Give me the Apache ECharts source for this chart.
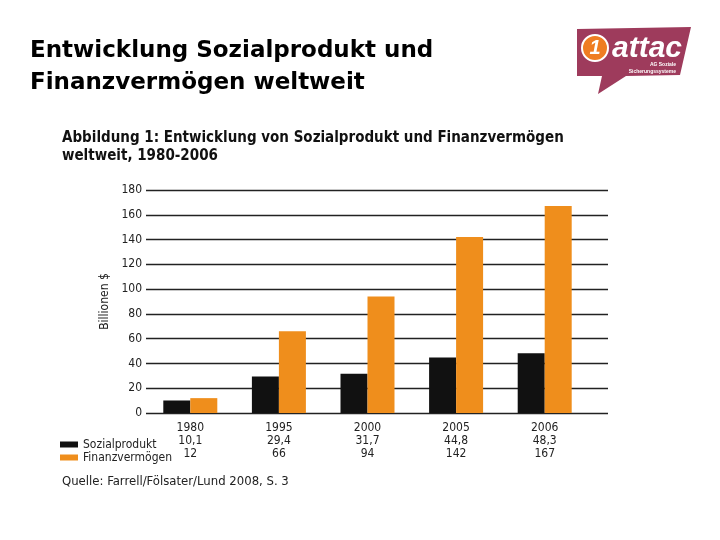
<!DOCTYPE html>
<html><head><meta charset="utf-8">
<script src="https://cdn.jsdelivr.net/npm/echarts@6/dist/echarts.min.js"></script>
<style>html,body{margin:0;padding:0;background:#fff}#c{width:720px;height:540px}</style>
</head><body><div id="c"></div>
<script>
const categories = ['1980', '1995', '2000', '2005', '2006'];
const sozialprodukt = [10.1, 29.4, 31.7, 44.8, 48.3];
const finanzvermoegen = [12, 66, 94, 142, 167];
const seriesNames = ['Sozialprodukt', 'Finanzvermögen'];
const yTicks = { min: 0, max: 180, interval: 20 };

const NARROW = '"Liberation Sans Narrow", "DejaVu Sans Condensed", sans-serif';
const fmt = v => String(v).replace('.', ',');

const chart = echarts.init(document.getElementById('c'));
chart.setOption({
  backgroundColor: '#fff',
  animation: false,
  title: [{
    text: 'Entwicklung Sozialprodukt und\nFinanzvermögen weltweit',
    left: 25, top: 30,
    textStyle: { fontFamily: '"DejaVu Sans", sans-serif', fontSize: 23, fontWeight: 'bold', color: '#000', lineHeight: 32 }
  }, {
    text: 'Abbildung 1: Entwicklung von Sozialprodukt und Finanzvermögen\nweltweit, 1980-2006',
    left: 57, top: 124,
    textStyle: { fontFamily: NARROW, fontSize: 15, fontWeight: 'bold', color: '#111', lineHeight: 18 }
  }, {
    text: 'Quelle: Farrell/Fölsater/Lund 2008, S. 3',
    left: 57, top: 470,
    textStyle: { fontFamily: NARROW, fontSize: 13, fontWeight: 'normal', color: '#222' }
  }],
  legend: {
    orient: 'vertical', left: 55, top: 433, itemGap: 0,
    itemWidth: 18, itemHeight: 6, icon: 'rect',
    data: seriesNames,
    textStyle: { fontFamily: NARROW, fontSize: 12, color: '#222', lineHeight: 13 }
  },
  grid: [
    { left: 146, right: 112, top: 190, bottom: 127 },
    { left: 146, width: 443, top: 190, bottom: 127 }
  ],
  xAxis: [
    { type: 'category', gridIndex: 0, data: [''], show: false },
    {
      type: 'category', gridIndex: 1, data: categories,
      axisLine: { show: false }, axisTick: { show: false },
      axisLabel: {
        margin: 8, fontFamily: NARROW, fontSize: 12, color: '#222', lineHeight: 13,
        formatter: (v, i) => v + '\n' + fmt(sozialprodukt[i]) + '\n' + fmt(finanzvermoegen[i])
      }
    }
  ],
  yAxis: [
    {
      type: 'value', gridIndex: 0, min: yTicks.min, max: yTicks.max, interval: yTicks.interval,
      name: 'Billionen $', nameLocation: 'middle', nameGap: 24, nameRotate: 90,
      nameTextStyle: { fontFamily: NARROW, fontSize: 12, color: '#222' },
      axisLine: { show: false }, axisTick: { show: false },
      axisLabel: { fontFamily: NARROW, fontSize: 12, color: '#222', margin: 4 },
      splitLine: { lineStyle: { color: '#222', width: 1.3 } }
    },
    { type: 'value', gridIndex: 1, min: yTicks.min, max: yTicks.max, interval: yTicks.interval, show: false, splitLine: { show: false } }
  ],
  series: [
    { type: 'bar', name: seriesNames[0], xAxisIndex: 1, yAxisIndex: 1, data: sozialprodukt, barWidth: 27, barGap: '0%', itemStyle: { color: '#111' } },
    { type: 'bar', name: seriesNames[1], xAxisIndex: 1, yAxisIndex: 1, data: finanzvermoegen, barWidth: 27, barGap: '0%', itemStyle: { color: '#ef8e1c' } }
  ],
  graphic: [
    { type: 'polygon', shape: { points: [[577, 29], [691, 27], [680, 75], [626, 76], [598, 94], [602, 76], [577, 76]] }, style: { fill: '#9e3b5c' } },
    { type: 'circle', shape: { cx: 595, cy: 48, r: 13 }, style: { fill: '#ef7d22', stroke: '#fff', lineWidth: 2 } },
    { type: 'text', x: 595, y: 48, style: { text: '1', fill: '#fff', font: 'italic bold 20px "Liberation Sans", sans-serif', align: 'center', verticalAlign: 'middle' } },
    { type: 'text', x: 612, y: 49, style: { text: 'attac', fill: '#fff', font: 'italic bold 30px "Liberation Sans", sans-serif', verticalAlign: 'middle' } },
    { type: 'text', x: 676, y: 65, style: { text: 'AG Soziale', fill: '#fff', font: 'bold 5px "Liberation Sans", sans-serif', align: 'right', verticalAlign: 'middle' } },
    { type: 'text', x: 676, y: 72, style: { text: 'Sicherungssysteme', fill: '#fff', font: 'bold 5px "Liberation Sans", sans-serif', align: 'right', verticalAlign: 'middle' } }
  ]
});
</script></body></html>
